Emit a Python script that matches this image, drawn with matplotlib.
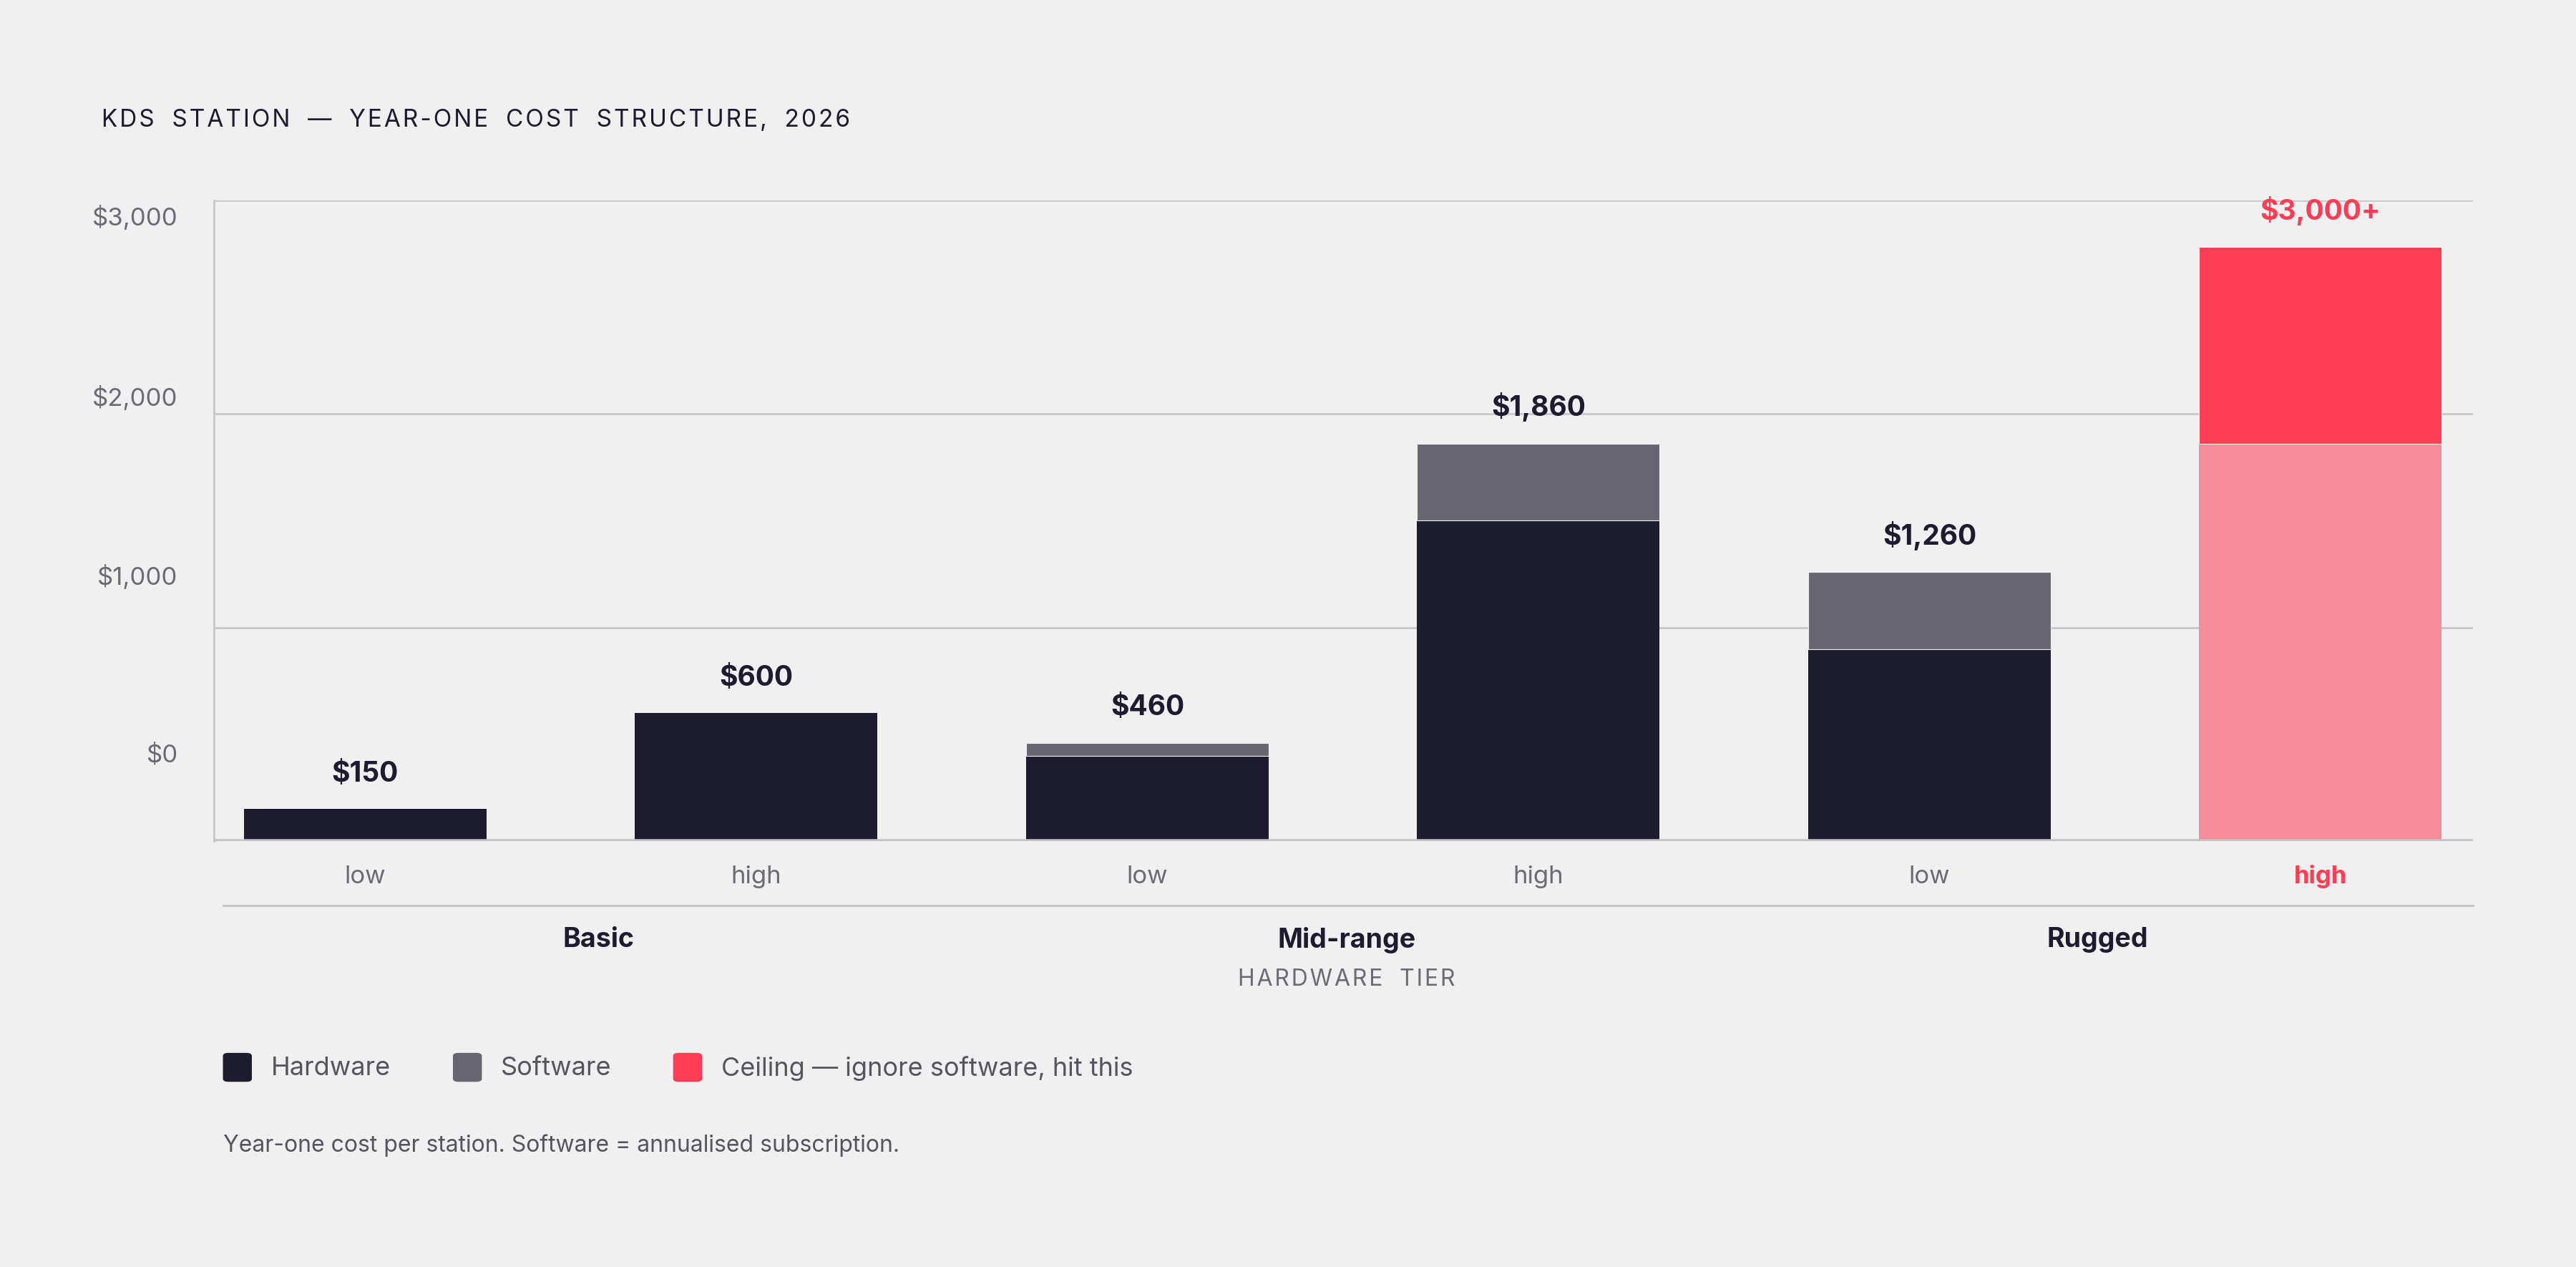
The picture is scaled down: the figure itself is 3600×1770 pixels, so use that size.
import matplotlib
matplotlib.use('Agg')
import matplotlib.pyplot as plt

plt.rcParams['font.family'] = ['Inter', 'DejaVu Sans']

tiers = ['Basic', 'Mid-range', 'Rugged']
levels = ['low', 'high', 'low', 'high', 'low', 'high']
hardware = [150, 600, 400, 1500, 900, 1860]
software = [0, 0, 60, 360, 360, 920]
totals = ['$150', '$600', '$460', '$1,860', '$1,260', '$3,000+']
tick_vals = [415, 1246, 2085, 2930]
tick_labels = ['$0', '$1,000', '$2,000', '$3,000']

bg = '#f0f0f0'
dark = '#1d1c2e'
grey = '#676570'
red = '#ff3d55'
pink = '#f78c9a'
txt_grey = '#6b6b75'

fig = plt.figure(figsize=(36, 17.7), dpi=100, facecolor=bg)
ax = fig.add_axes([0.083, 0.336, 0.877, 0.506], facecolor=bg)

x = list(range(len(levels)))
for i in x:
    hc = pink if i == 5 else dark
    sc = red if i == 5 else grey
    ax.bar(i, hardware[i], width=0.62, color=hc, zorder=3)
    if software[i]:
        ax.bar(i, software[i], bottom=hardware[i], width=0.62, color=sc, zorder=3,
               edgecolor=bg, linewidth=0.8)
    top = hardware[i] + software[i]
    ax.annotate(totals[i], (i, top), xytext=(0, 22), textcoords='offset points',
                ha='center', va='bottom', fontsize=28, fontweight='bold',
                color=red if i == 5 else dark)

for g in [1000, 2000, 3000]:
    ax.axhline(g, color='#c8c8cc', lw=2, zorder=1)
ax.axhline(0, color='#c4c4c8', lw=4, zorder=4)

ax.set_xlim(-0.387, 5.39)
ax.set_ylim(0, 3000)
ax.set_yticks(tick_vals)
ax.set_yticklabels(tick_labels, fontsize=25, color=txt_grey)
ax.tick_params(axis='y', length=0, pad=36)
ax.set_xticks([])
for s in ['top', 'right', 'bottom']:
    ax.spines[s].set_visible(False)
ax.spines['left'].set_color('#c8c8cc')
ax.spines['left'].set_linewidth(2)

trans = ax.get_xaxis_transform()
for i, lv in enumerate(levels):
    ax.text(i, -0.055, lv, transform=trans, ha='center', va='center', fontsize=25,
            color=red if i == 5 else txt_grey, fontweight='bold' if i == 5 else 'normal')
ax.plot([-0.362, 5.39], [-0.1, -0.1], transform=trans, color='#c4c4c8', lw=2, clip_on=False)
for xp, t in zip([0.597, 2.51, 4.43], tiers):
    ax.text(xp, -0.154, t, transform=trans, ha='center', va='center', fontsize=27,
            fontweight='bold', color=dark)
ax.text(2.51, -0.216, '\u200a'.join('HARDWARE TIER').replace(' ', '  '), transform=trans,
        ha='center', va='center', fontsize=23, color=txt_grey)

fig.text(62 / 1568, 1 - 73 / 771, '\u200a'.join('KDS STATION — YEAR-ONE COST STRUCTURE, 2026').replace(' ', '  '),
         ha='left', va='center', fontsize=24, color=dark)

legend = [(dark, 'Hardware', 136), (grey, 'Software', 276), (red, 'Ceiling — ignore software, hit this', 410)]
for c, lab, px in legend:
    fig.patches.append(matplotlib.patches.FancyBboxPatch(
        (px / 1568, 1 - 658 / 771), 17 / 1568, 17 / 771, boxstyle='round,pad=0,rounding_size=0.002',
        transform=fig.transFigure, color=c))
    fig.text((px + 29) / 1568, 1 - 650 / 771, lab, ha='left', va='center', fontsize=26, color='#555560')

fig.text(136 / 1568, 1 - 697 / 771, 'Year-one cost per station. Software = annualised subscription.',
         ha='left', va='center', fontsize=23, color='#555560')

fig.savefig('out.png', dpi=100, facecolor=bg)
